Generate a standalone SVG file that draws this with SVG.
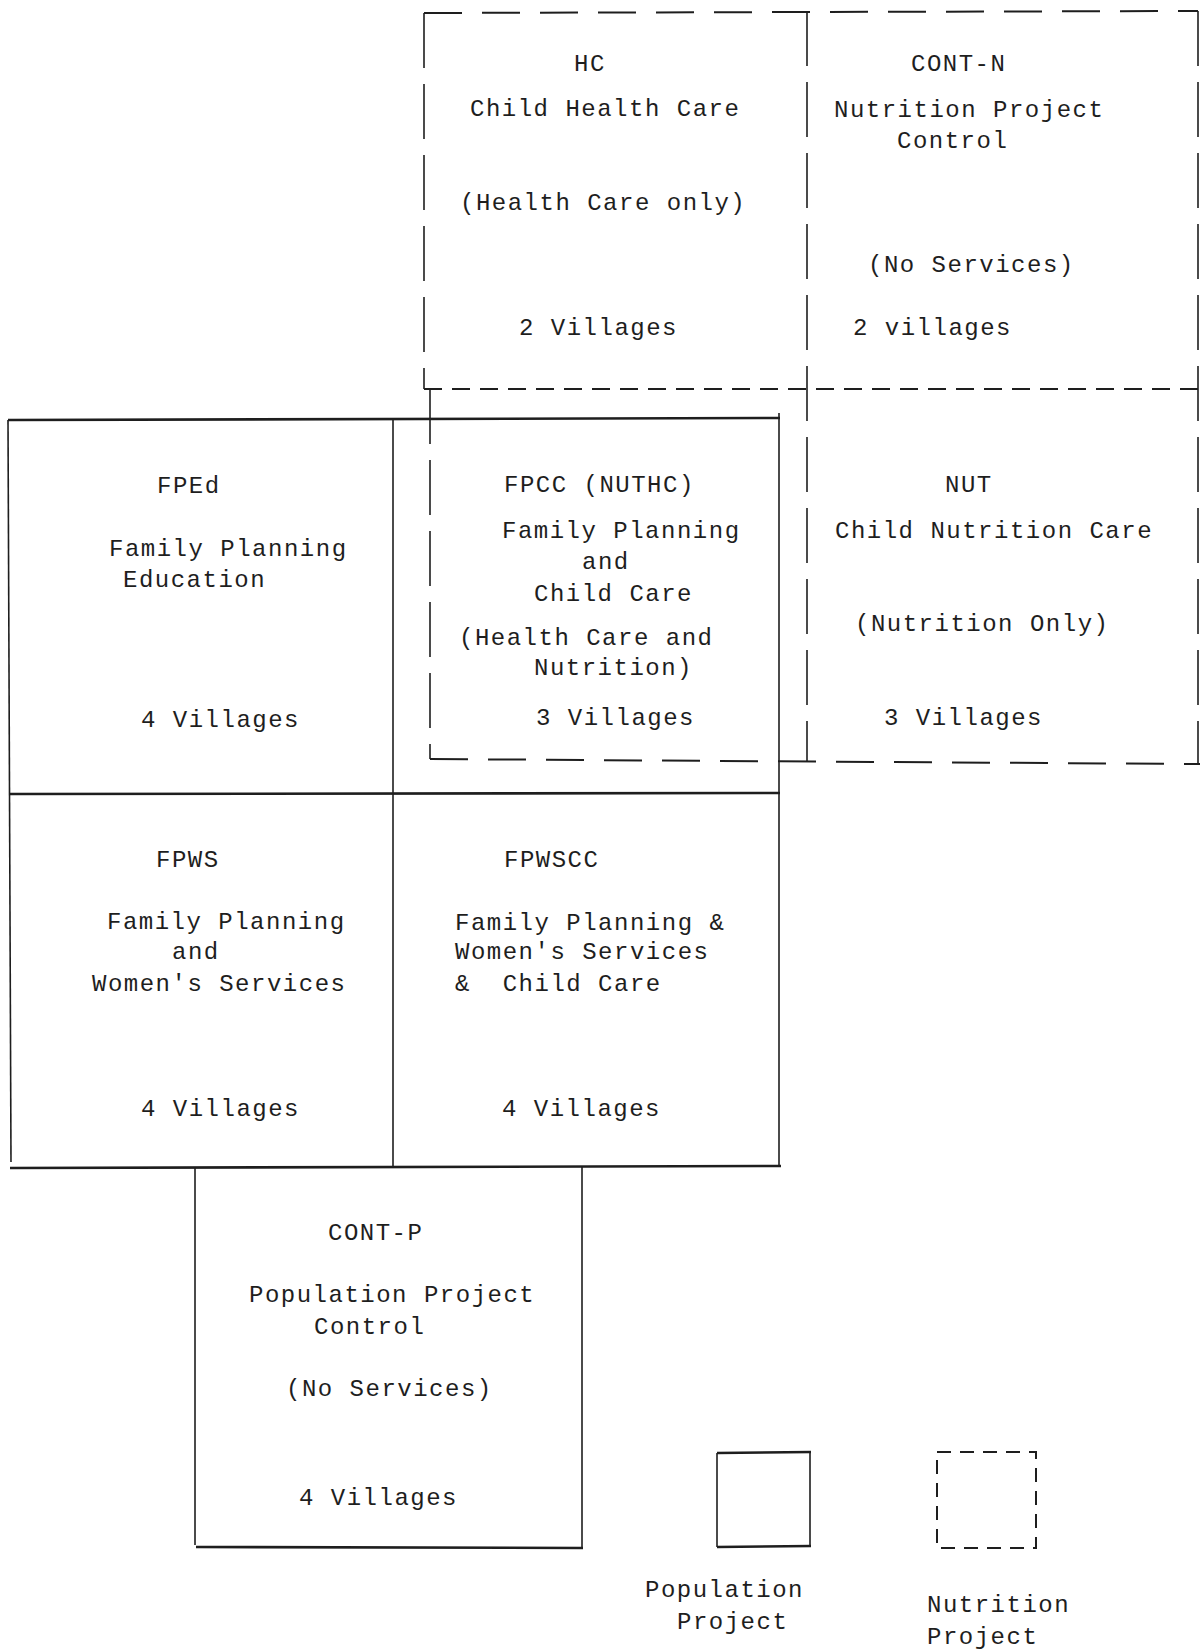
<svg xmlns="http://www.w3.org/2000/svg" width="1202" height="1651" viewBox="0 0 1202 1651">
<style>
text{font-family:"Liberation Mono","DejaVu Sans Mono",monospace;font-size:24px;letter-spacing:1.5px;fill:#1e1e1e}
.s{stroke:#1e1e1e;fill:none;stroke-width:1.6}
.sh{stroke:#1e1e1e;fill:none;stroke-width:2.6}
.d{stroke:#1e1e1e;fill:none;stroke-width:2;stroke-dasharray:38 20}
.dv{stroke:#1e1e1e;fill:none;stroke-width:1.6;stroke-dasharray:55 16}
.dm{stroke:#1e1e1e;fill:none;stroke-width:2;stroke-dasharray:18 10}
.dl{stroke:#1e1e1e;fill:none;stroke-width:2;stroke-dasharray:14 9}
</style>
<rect width="1202" height="1651" fill="#ffffff"/>
<g id="connectors">
<line class="d" x1="424" y1="13" x2="1198" y2="11"/>
<line class="dv" x1="424" y1="13" x2="424" y2="389"/>
<line class="dv" x1="430" y1="389" x2="430" y2="759"/>
<line class="dv" x1="807" y1="11" x2="807" y2="762"/>
<line class="dv" x1="1198" y1="11" x2="1198" y2="763"/>
<line class="dm" x1="424" y1="389" x2="1198" y2="389"/>
<line class="d" x1="430" y1="759" x2="1200" y2="764"/>
<line class="sh" x1="8" y1="420" x2="780" y2="418"/>
<line class="sh" x1="10" y1="794" x2="780" y2="793"/>
<line class="sh" x1="10" y1="1168" x2="781" y2="1166"/>
<line class="sh" x1="196" y1="1547" x2="583" y2="1548"/>
<line class="s" x1="8" y1="420" x2="11" y2="1162"/>
<line class="s" x1="393" y1="420" x2="393" y2="1168"/>
<line class="s" x1="779" y1="413" x2="779" y2="1167"/>
<line class="s" x1="195" y1="1168" x2="195" y2="1545"/>
<line class="s" x1="582" y1="1167" x2="582" y2="1548"/>
</g>
<g id="HC">
<text x="574" y="71">HC</text>
<text x="470" y="116">Child Health Care</text>
<text x="460" y="210">(Health Care only)</text>
<text x="519" y="335">2 Villages</text>
</g>
<g id="CONT-N">
<text x="911" y="71">CONT-N</text>
<text x="834" y="117">Nutrition Project</text>
<text x="897" y="148">Control</text>
<text x="868" y="272">(No Services)</text>
<text x="853" y="335">2 villages</text>
</g>
<g id="FPEd">
<text x="157" y="493">FPEd</text>
<text x="109" y="556">Family Planning</text>
<text x="123" y="587">Education</text>
<text x="141" y="727">4 Villages</text>
</g>
<g id="FPCC">
<text x="504" y="492">FPCC (NUTHC)</text>
<text x="502" y="538">Family Planning</text>
<text x="582" y="569">and</text>
<text x="534" y="601">Child Care</text>
<text x="459" y="645">(Health Care and</text>
<text x="534" y="675">Nutrition)</text>
<text x="536" y="725">3 Villages</text>
</g>
<g id="NUT">
<text x="945" y="492">NUT</text>
<text x="835" y="538">Child Nutrition Care</text>
<text x="855" y="631">(Nutrition Only)</text>
<text x="884" y="725">3 Villages</text>
</g>
<g id="FPWS">
<text x="156" y="867">FPWS</text>
<text x="107" y="929">Family Planning</text>
<text x="172" y="959">and</text>
<text x="92" y="991">Women's Services</text>
<text x="141" y="1116">4 Villages</text>
</g>
<g id="FPWSCC">
<text x="504" y="867">FPWSCC</text>
<text x="455" y="930">Family Planning &amp;</text>
<text x="455" y="959">Women's Services</text>
<text x="455" y="991" xml:space="preserve">&amp;  Child Care</text>
<text x="502" y="1116">4 Villages</text>
</g>
<g id="CONT-P">
<text x="328" y="1240">CONT-P</text>
<text x="249" y="1302">Population Project</text>
<text x="314" y="1334">Control</text>
<text x="286" y="1396">(No Services)</text>
<text x="299" y="1505">4 Villages</text>
</g>
<g id="legend-population">
<line class="sh" x1="717" y1="1453" x2="811" y2="1452"/>
<line class="sh" x1="717" y1="1547" x2="811" y2="1546"/>
<line class="s" x1="717" y1="1453" x2="717" y2="1547"/>
<line class="s" x1="810" y1="1452" x2="810" y2="1546"/>
<text x="645" y="1597">Population</text>
<text x="677" y="1629">Project</text>
</g>
<g id="legend-nutrition">
<rect class="dl" x="937" y="1452" width="99" height="96"/>
<text x="927" y="1612">Nutrition</text>
<text x="927" y="1644">Project</text>
</g>
</svg>
